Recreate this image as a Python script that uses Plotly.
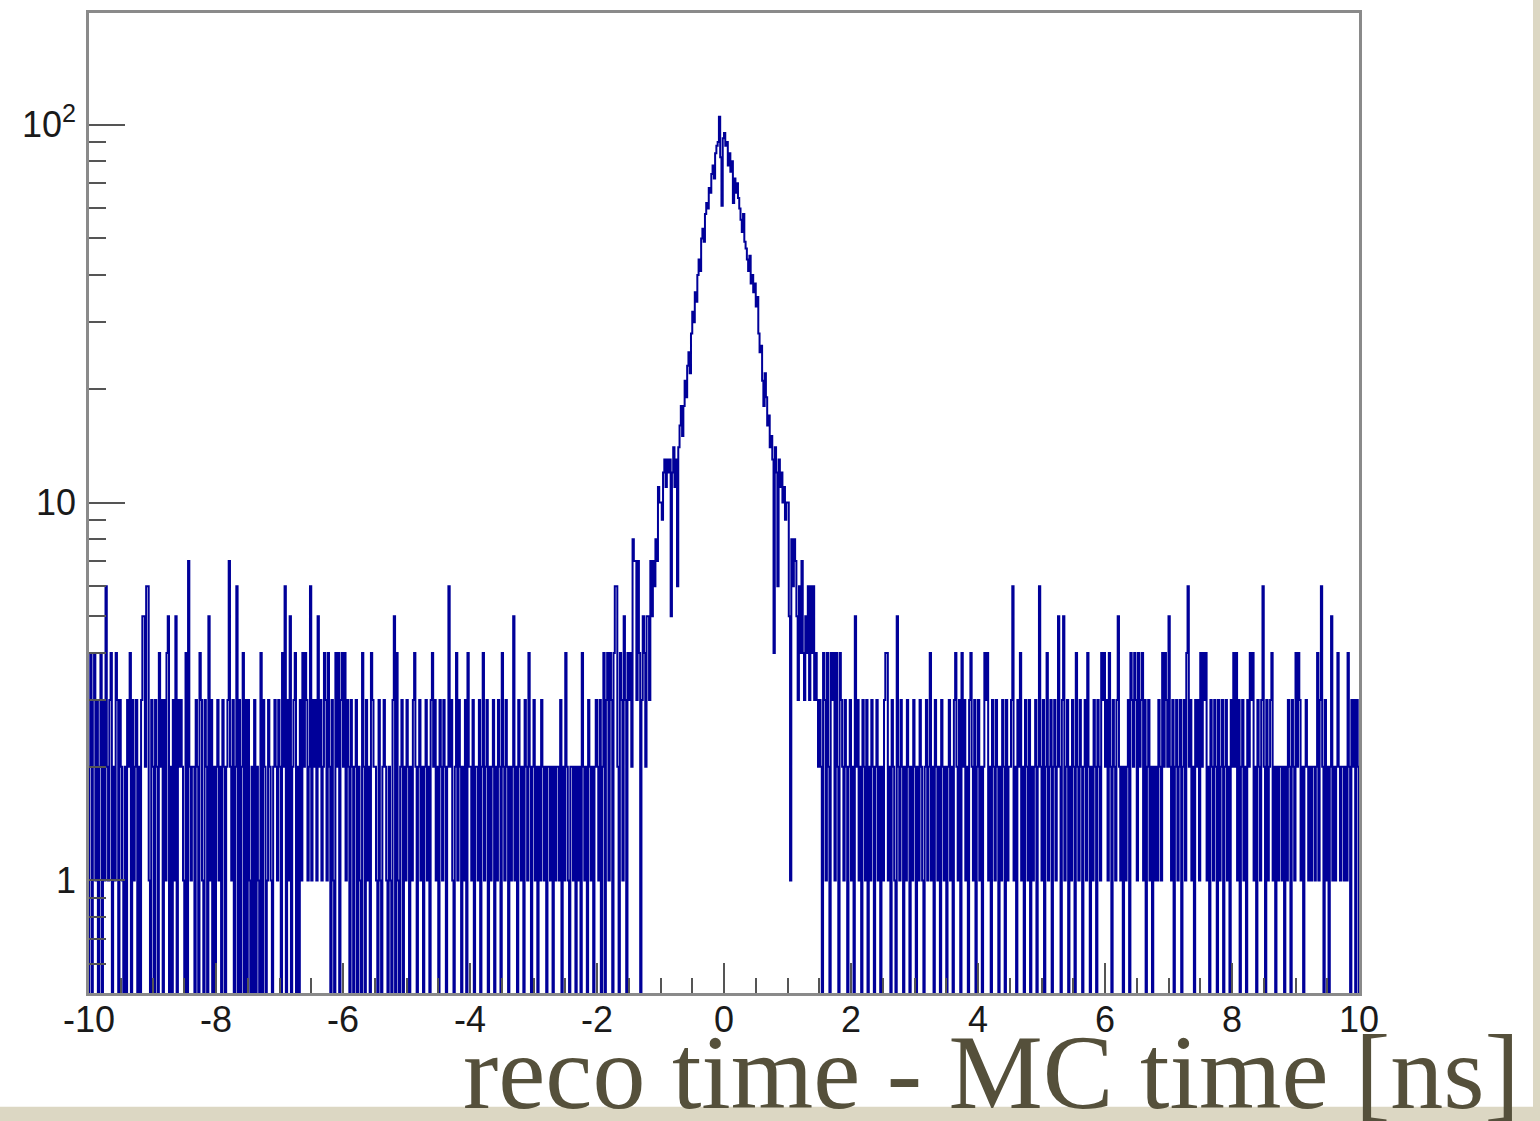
import plotly.graph_objects as go

# ---------------- data: counts per bin (1000 bins, -10 .. 10 ns, width 0.02 ns) ----------------
X_MIN, X_MAX, N_BINS = -10.0, 10.0, 1000

c_m10_m9 = [2,4,0,3,4,1,3,0,2,4,0,3,1,6,2,1,3,4,0,2,1,4,3,0,3,2,1,0,2,0,3,2,4,0,3,1,2,3,0,2,0,3,5,5,2,6,6,1,0,3]
c_m9_m8 = [2,0,3,2,0,4,2,3,0,3,1,4,5,0,2,0,3,1,5,0,3,2,3,2,1,0,4,0,7,2,1,2,2,0,3,2,0,4,3,1,0,3,2,0,5,1,3,0,2,0]
c_m8_m7 = [2,3,1,2,0,3,2,0,2,3,7,2,1,3,0,2,6,0,3,0,2,4,0,3,0,3,1,0,2,0,3,0,2,1,0,4,0,3,2,0,1,3,2,1,0,2,3,2,1,3]
c_m7_m6 = [2,0,4,2,6,0,3,1,5,0,2,3,4,0,2,0,3,1,4,2,4,3,1,2,6,1,3,2,3,1,5,2,3,1,2,4,3,1,4,2,0,3,1,0,4,2,4,0,3,4]
c_m6_m5 = [2,4,1,3,2,0,3,2,0,2,3,0,2,1,0,4,2,0,3,1,2,0,4,3,2,2,1,0,3,1,0,2,3,2,1,0,2,1,0,3,5,0,4,1,0,2,3,0,2,1]
c_m5_m4 = [3,2,0,2,1,3,4,2,0,2,3,1,2,0,2,3,1,2,0,3,4,2,3,1,2,0,3,2,1,3,2,0,2,6,2,3,1,0,2,4,1,3,2,0,2,1,3,0,4,2]
c_m4_m3 = [2,1,3,0,2,2,1,3,0,2,4,1,2,3,0,2,1,2,3,0,2,1,3,2,0,4,2,1,3,2,0,2,1,2,5,1,2,0,3,2,1,2,0,3,2,1,4,2,0,2]
c_m3_m2 = [3,1,2,0,2,1,3,2,1,2,0,2,2,1,2,0,2,1,2,2,1,3,0,2,1,4,2,1,0,2,2,1,2,0,2,1,2,0,4,2,1,2,0,3,2,1,2,0,2,3]
c_m2_m1 = [2,1,3,0,2,4,0,3,4,1,4,3,0,4,6,6,2,0,4,3,1,5,3,0,4,3,4,2,8,7,7,3,7,4,0,3,5,4,2,5,5,3,7,5,7,6,8,7,11,10]
c_m1_0 = [10,9,12,13,11,13,12,13,5,12,14,11,13,6,14,16,18,15,18,21,19,23,25,22,28,32,30,36,34,40,
          44,41,50,53,49,58,62,60,68,66,74,78,72,84,88,90,105,82,61,92]
c_0_1 = [95,88,90,78,84,75,80,62,72,66,70,64,60,56,52,58,49,47,44,41,45,38,40,36,38,33,35,28,25,26,
         21,18,22,19,16,17,14,15,13,4,14,12,6,13,11,12,10,11,9,10]
c_1_2 = [10,5,1,8,6,8,7,5,3,6,4,7,4,3,5,4,6,3,6,4,6,3,4,3,2,3,2,0,4,3,1,4,2,0,4,3,4,1,4,2,0,4,3,2,1,3,2,0,2,3]
c_2_3 = [1,2,0,5,2,3,1,2,0,3,2,1,3,0,2,1,3,2,0,2,3,1,2,0,2,1,3,4,4,1,2,0,3,2,1,0,5,2,1,3,2,0,2,1,3,2,0,2,1,3]
c_3_4 = [2,0,2,1,3,2,1,0,2,3,1,2,4,1,2,0,3,2,1,2,0,3,2,1,2,0,2,3,1,2,0,3,4,2,1,3,0,4,2,3,1,2,0,3,4,2,1,3,0,2]
c_4_5 = [3,1,2,0,2,4,3,4,1,2,0,3,2,1,3,2,0,2,1,3,2,0,3,1,2,2,3,6,1,2,0,3,2,4,1,2,0,3,2,1,3,0,2,1,2,3,0,2,6,2]
c_5_6 = [1,3,0,2,4,1,2,3,0,2,3,1,2,5,2,0,3,5,1,2,3,0,2,1,3,2,0,4,2,1,3,2,0,2,3,1,4,2,0,2,1,3,2,0,3,2,1,4,3,4]
c_6_7 = [2,3,1,4,2,0,3,2,1,3,5,2,1,2,0,2,1,2,3,0,4,3,2,4,3,1,4,2,3,4,1,3,0,2,3,1,2,0,2,1,2,1,3,2,1,4,2,4,3,2]
c_7_8 = [5,2,1,3,0,2,3,1,2,3,0,2,3,1,4,6,2,3,1,2,0,3,2,3,1,4,2,4,3,4,1,2,0,3,2,1,3,2,0,3,1,2,3,0,2,3,1,2,0,3]
c_8_9 = [2,4,2,4,1,3,0,2,3,1,2,0,3,2,4,3,4,1,2,0,3,2,1,3,6,2,0,3,1,2,3,4,1,2,0,2,1,2,2,1,2,0,2,1,3,2,0,3,2,1]
c_9_10 = [4,2,4,3,1,2,0,2,3,2,1,2,1,2,2,1,2,4,1,3,6,2,0,3,1,2,0,2,5,1,2,1,2,4,2,1,2,2,1,2,1,4,2,0,3,2,3,0,3,2]

x_tick_vals = [-10, -8, -6, -4, -2, 0, 2, 4, 6, 8, 10]
x_tick_text = ["-10", "-8", "-6", "-4", "-2", "0", "2", "4", "6", "8", "10"]
y_tick_vals = [1, 10, 100]
y_tick_text = ["1", "10", "10<sup>2</sup>"]
x_title = "reco time - MC time [ns]"

# ---------------- build step outline ----------------
counts = (c_m10_m9 + c_m9_m8 + c_m8_m7 + c_m7_m6 + c_m6_m5 + c_m5_m4 + c_m4_m3 + c_m3_m2 +
          c_m2_m1 + c_m1_0 + c_0_1 + c_1_2 + c_2_3 + c_3_4 + c_4_5 + c_5_6 + c_6_7 + c_7_8 +
          c_8_9 + c_9_10)
assert len(counts) == N_BINS
bw = (X_MAX - X_MIN) / N_BINS
FLOOR = 1e-3  # empty bins drop below the log axis
edges = [X_MIN + i * bw for i in range(N_BINS + 1)]
xs = [X_MIN] + edges[:-1] + [X_MAX, X_MAX]
ys = [FLOOR] + [c if c > 0 else FLOOR for c in counts] + [counts[-1] if counts[-1] > 0 else FLOOR, FLOOR]

fig = go.Figure(go.Scatter(x=xs, y=ys, mode="lines",
                           line=dict(color="#000099", width=2.0, shape="hv"),
                           hoverinfo="skip"))

x_minor = [v / 2 for v in range(-20, 21) if v % 4 != 0]
y_minor = [0.6, 0.7, 0.8, 0.9] + list(range(2, 10)) + list(range(20, 100, 10))

L, R, T, B = 89, 1359, 10, 993
W, H = 1540, 1121

def px_x(p):
    return (p - L) / (R - L)

def px_y(p):
    return (B - p) / (B - T)

tickfont = dict(family="Liberation Sans, Arial, sans-serif", size=36, color="#1a1a1a")

fig.update_layout(
    width=W, height=H,
    margin=dict(l=L, r=W - R, t=T, b=H - B, pad=0),
    paper_bgcolor="white", plot_bgcolor="white",
    showlegend=False,
    xaxis=dict(range=[X_MIN, X_MAX], tickmode="array", tickvals=x_tick_vals, ticktext=x_tick_text,
               ticks="inside", ticklen=30, tickwidth=1.5, tickcolor="#555555",
               minor=dict(tickmode="array", tickvals=x_minor, ticks="inside", ticklen=15,
                          tickwidth=1.5, tickcolor="#555555"),
               showline=True, mirror=True, linecolor="#8a8a8a", linewidth=2.5,
               showgrid=False, zeroline=False, tickfont=tickfont, ticklabelstandoff=-7),
    yaxis=dict(type="log", range=[-0.298, 2.2955], tickmode="array", tickvals=y_tick_vals,
               ticktext=y_tick_text,
               ticks="inside", ticklen=36, tickwidth=1.5, tickcolor="#555555",
               minor=dict(tickmode="array", tickvals=y_minor, ticks="inside", ticklen=17,
                          tickwidth=1.5, tickcolor="#555555"),
               showline=True, mirror=True, linecolor="#8a8a8a", linewidth=2.5,
               showgrid=False, zeroline=False, tickfont=tickfont, ticklabelstandoff=3),
    shapes=[
        dict(type="rect", xref="paper", yref="paper", x0=px_x(1533), x1=px_x(1545),
             y0=px_y(1130), y1=px_y(-5), fillcolor="#dcd7c3", line=dict(width=0), layer="below"),
        dict(type="rect", xref="paper", yref="paper", x0=px_x(-5), x1=px_x(1545),
             y0=px_y(1130), y1=px_y(1107), fillcolor="#dcd7c3", line=dict(width=0), layer="below"),
    ],
    annotations=[dict(text=x_title, xref="paper", yref="paper", x=px_x(1522), y=px_y(1073),
                      xanchor="right", yanchor="middle", showarrow=False,
                      font=dict(family="Liberation Serif, Times New Roman, serif", size=106,
                                color="#55503b"))],
)

fig.write_html("out.html")
